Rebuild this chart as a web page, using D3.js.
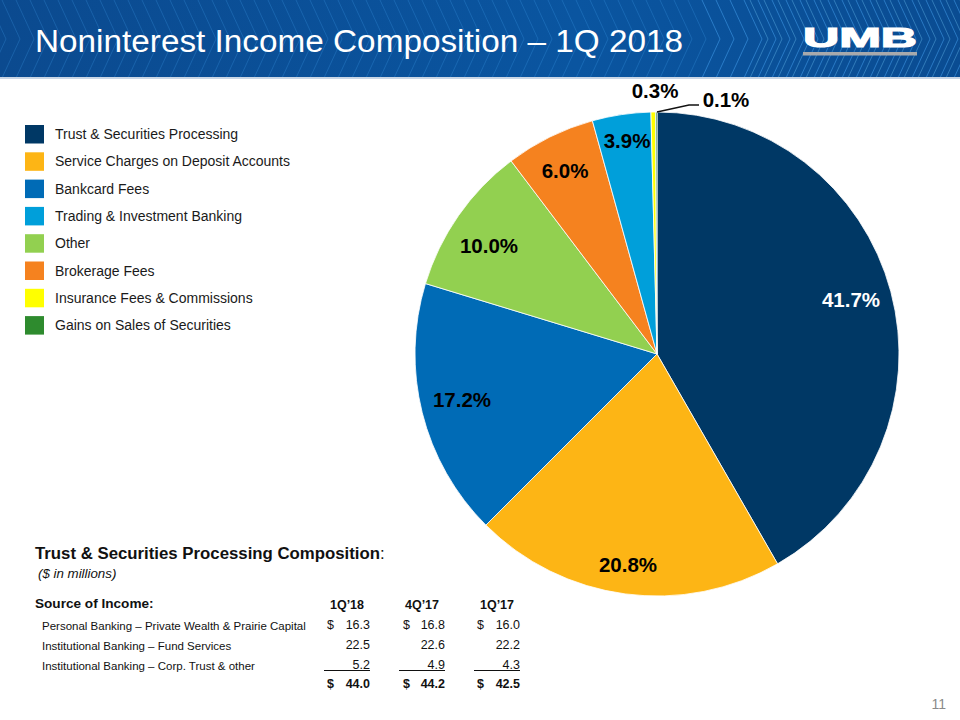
<!DOCTYPE html>
<html><head><meta charset="utf-8">
<script src="https://cdn.jsdelivr.net/npm/d3@7"></script>
<style>body{margin:0;background:#fff}svg{display:block;font-family:Arial,"Liberation Sans",sans-serif}</style>
</head><body>
<script>
const categories = ["Trust & Securities Processing","Service Charges on Deposit Accounts","Bankcard Fees","Other","Brokerage Fees","Trading & Investment Banking","Insurance Fees & Commissions","Gains on Sales of Securities"];
const shares = [41.7,20.8,17.2,10.0,6.0,3.9,0.3,0.1];
const colors = ["#003865","#FDB515","#006BB6","#92D050","#F5821F","#009FDA","#FFFF00","#2E8B2E"];
const legendOrder = ["Trust & Securities Processing","Service Charges on Deposit Accounts","Bankcard Fees","Trading & Investment Banking","Other","Brokerage Fees","Insurance Fees & Commissions","Gains on Sales of Securities"];
const tableCols = ["1Q\u201918","4Q\u201917","1Q\u201917"];
const tableRows = ["Personal Banking \u2013 Private Wealth & Prairie Capital","Institutional Banking \u2013 Fund Services","Institutional Banking \u2013 Corp. Trust & other"];
const tableValues = [[16.3,16.8,16.0],[22.5,22.6,22.2],[5.2,4.9,4.3]];
const tableTotals = [44.0,44.2,42.5];

const W=960,H=720;
const svg=d3.select("body").append("svg").attr("width",W).attr("height",H);
const defs=svg.append("defs");
const g1=defs.append("linearGradient").attr("id","hdr").attr("x1",0).attr("x2",1);
g1.append("stop").attr("offset","0").attr("stop-color","#0b4a8f");
g1.append("stop").attr("offset","0.6").attr("stop-color","#0a55a0");
g1.append("stop").attr("offset","1").attr("stop-color","#0a4c92");
// header
svg.append("rect").attr("x",0).attr("y",0).attr("width",W).attr("height",78).attr("fill","url(#hdr)");
const hl=svg.append("g").attr("stroke-width",1).attr("fill","none");
d3.range(-40,W+40,14).forEach(x=>{
  const op = x>700 ? 0.45 : 0.22;
  hl.append("path").attr("d",`M${x},0 L${x+18},39 L${x},78`).attr("stroke","#4fb0ff").attr("stroke-opacity",op);
  if(x>740) hl.append("path").attr("d",`M${x+6},0 L${x+24},39 L${x+6},78`).attr("stroke","#7ad0ff").attr("stroke-opacity",0.35);
});
svg.append("rect").attr("x",0).attr("y",77).attr("width",W).attr("height",2).attr("fill","#c9d6e6");
svg.append("text").attr("x",35).attr("y",52).attr("fill","#fff").attr("font-size",31).attr("textLength",648).attr("lengthAdjust","spacingAndGlyphs").text("Noninterest Income Composition \u2013 1Q 2018");
svg.append("text").attr("x",803).attr("y",47).attr("fill","#fff").attr("font-size",28).attr("font-weight","900").attr("stroke","#fff").attr("stroke-width",1.2).attr("textLength",114).attr("lengthAdjust","spacingAndGlyphs").text("UMB");
svg.append("rect").attr("x",803).attr("y",52).attr("width",114).attr("height",3.5).attr("fill","#a7a9ac");

// pie
const cx=657,cy=354,R=242;
const pie=d3.pie().sort(null).value(d=>d)(shares);
const arc=d3.arc().innerRadius(0).outerRadius(R);
const pg=svg.append("g").attr("transform",`translate(${cx},${cy})`);
pg.selectAll("path").data(pie).join("path").attr("d",arc).attr("fill",(d,i)=>colors[i]).attr("stroke","#fff").attr("stroke-width",0.8);
const labelPos=[[194,-47],[-29,218],[-195,53],[-168,-101],[-92,-176],[-30,-206],[-2,-256],[69,-247]];
pg.selectAll("text.lbl").data(pie).join("text").attr("class","lbl")
  .attr("x",(d,i)=>labelPos[i][0]).attr("y",(d,i)=>labelPos[i][1])
  .attr("text-anchor","middle").attr("font-size",20.5).attr("font-weight","bold")
  .attr("fill",(d,i)=>i===0?"#fff":"#000")
  .text(d=>d.data.toFixed(1)+"%");
pg.append("path").attr("d","M0,-242 L32,-249 L42,-249").attr("stroke","#111").attr("stroke-width",1.3).attr("fill","none");

// legend
const lg=svg.append("g");
legendOrder.forEach((name,i)=>{
  const y=125+i*27.3;
  lg.append("rect").attr("x",25).attr("y",y).attr("width",19).attr("height",18.5).attr("fill",colors[categories.indexOf(name)]);
  lg.append("text").attr("x",55).attr("y",y+14).attr("font-size",14).attr("fill","#1a1a1a").text(name);
});

// table
const t=svg.append("g").attr("fill","#111");
t.append("text").attr("x",35).attr("y",559).attr("font-size",16.8).attr("font-weight","bold").text("Trust & Securities Processing Composition").append("tspan").attr("font-weight","normal").text(":");
t.append("text").attr("x",38).attr("y",578).attr("font-size",13.3).attr("font-style","italic").text("($ in millions)");
t.append("text").attr("x",35).attr("y",608).attr("font-size",13.6).attr("font-weight","bold").text("Source of Income:");
const colRight=[370,445,520], colDollar=[327,403,477];
tableCols.forEach((c,j)=>t.append("text").attr("x",colRight[j]-23).attr("y",609).attr("text-anchor","middle").attr("font-size",12.5).attr("font-weight","bold").text(c));
tableRows.forEach((r,i)=>{
  const y=629+i*20;
  t.append("text").attr("x",42).attr("y",y+1).attr("font-size",11.5).text(r);
  tableValues[i].forEach((v,j)=>{
    t.append("text").attr("x",colRight[j]).attr("y",y).attr("text-anchor","end").attr("font-size",12.5).text(v.toFixed(1));
    if(i===0) t.append("text").attr("x",colDollar[j]).attr("y",y).attr("font-size",12.5).text("$");
  });
});
colRight.forEach((x,j)=>t.append("line").attr("x1",x-46).attr("x2",x).attr("y1",670.5).attr("y2",670.5).attr("stroke","#111").attr("stroke-width",1));
tableTotals.forEach((v,j)=>{
  t.append("text").attr("x",colRight[j]).attr("y",688).attr("text-anchor","end").attr("font-size",12.5).attr("font-weight","bold").text(v.toFixed(1));
  t.append("text").attr("x",colDollar[j]).attr("y",688).attr("font-size",12.5).attr("font-weight","bold").text("$");
});
svg.append("text").attr("x",946).attr("y",709).attr("text-anchor","end").attr("font-size",14).attr("fill","#8a8a8a").text("11");
</script>
</body></html>
